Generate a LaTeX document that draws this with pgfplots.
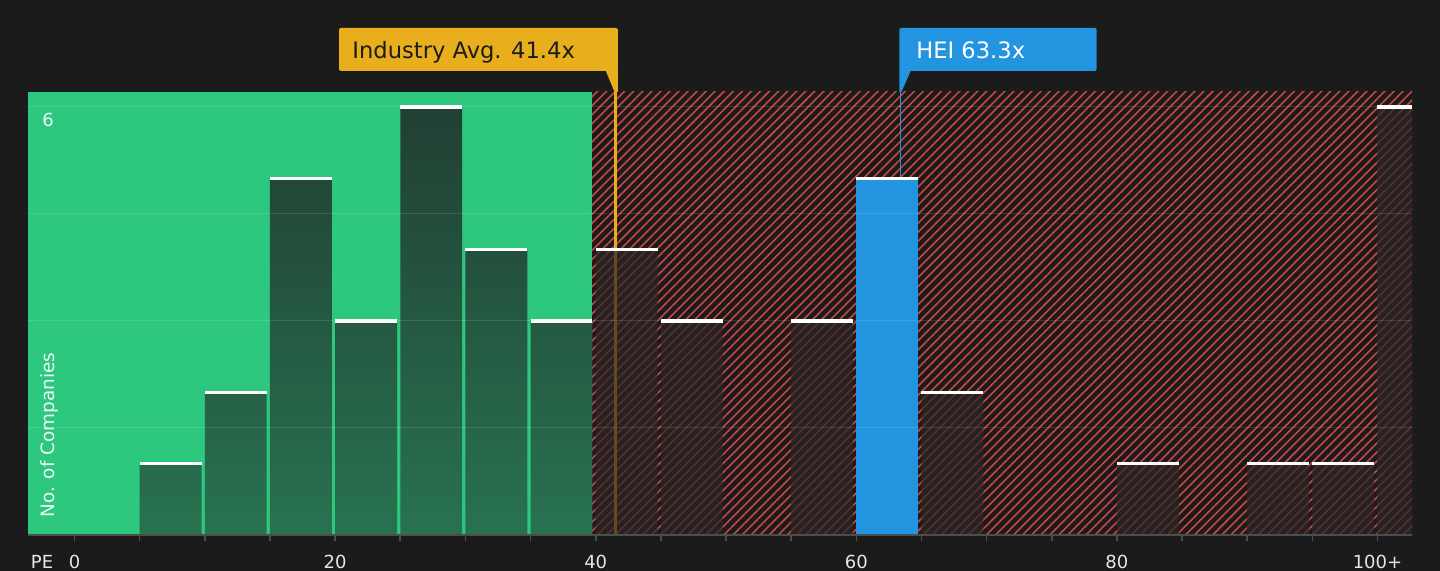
\documentclass[border=0pt]{standalone}
\usepackage{pgfplots}
\pgfplotsset{compat=1.18}
\usepackage{pgfplotstable}
\usepackage{fontspec}
\setmainfont{DejaVu Sans}
\usetikzlibrary{patterns.meta}
\definecolor{bg}{HTML}{1B1B1B}
\definecolor{greenbg}{RGB}{46,199,126}
\definecolor{gtop}{HTML}{213F33}
\definecolor{gbot}{HTML}{287250}
\definecolor{hatchred}{RGB}{200,70,70}
\definecolor{darkbar}{RGB}{44,38,38}
\definecolor{indorange}{HTML}{E9AE1B}
\definecolor{heiblue}{HTML}{2394DF}
\definecolor{axisgray}{HTML}{4D4D4D}
\definecolor{ticktext}{HTML}{E6E6E6}

\pgfplotstableread{
x y
5 1
10 2
15 5
20 3
25 6
30 4
35 3
}\greenbars
\pgfplotstableread{
x y
40 4
45 3
55 3
65 2
80 1
90 1
95 1
}\redbars
\pgfplotstableread{
x y
60 5
}\heibar
\pgfplotstableread{
x y
100 6
}\lastbar

\begin{document}
\begin{tikzpicture}
\useasboundingbox (0,0) rectangle (720pt,285.5pt);
\fill[bg] (0,0) rectangle (720pt,285.5pt);
\begin{axis}[
  at={(14pt,18pt)}, anchor=south west,
  width=692pt, height=221.5pt, scale only axis,
  xmin=-3.57, xmax=102.65, ymin=0, ymax=6.21,
  clip=false,
  axis on top,
  axis x line*=bottom,
  axis y line*=left,
  x axis line style={-, draw=axisgray, line width=0.8pt},
  y axis line style={draw=none},
  xtick={0,5,...,100},
  xticklabels={0,,,,20,,,,40,,,,60,,,,80,,,,100+},
  ytick={1.5,3,4.5,6},
  yticklabels={},
  major y tick style={draw=none},
  ymajorgrids,
  grid style={white, opacity=0.12, line width=0.5pt},
  tick align=outside,
  major tick length=3pt,
  major x tick style={draw=axisgray, line width=0.8pt},
  xticklabel style={font=\fontsize{9}{10}\selectfont, text=ticktext, anchor=base, inner sep=0pt, yshift=-13.8pt},
]
% regions
\addplot[draw=none, fill=greenbg] coordinates {(-3.57,6.21) (39.7,6.21)} \closedcycle;
\addplot[draw=none, pattern={Lines[angle=45,distance=3.2pt,line width=0.8pt]}, pattern color=hatchred] coordinates {(39.7,6.21) (102.65,6.21)} \closedcycle;
% reference lines
\draw[indorange, line width=1.5pt] (axis cs:41.55,0) -- (axis cs:41.55,6.21);
\draw[heiblue, line width=0.8pt] (axis cs:63.4,6.21) -- (axis cs:63.4,5);
% bars
\addplot[ybar, bar width=4.75, bar shift=2.375, draw=none, top color=gtop, bottom color=gbot] table[x=x,y=y] {\greenbars};
\addplot[ybar, bar width=4.75, bar shift=2.375, draw=none, fill=darkbar, fill opacity=0.72] table[x=x,y=y] {\redbars};
\addplot[ybar, bar width=4.75, bar shift=2.375, draw=none, fill=heiblue] table[x=x,y=y] {\heibar};
\addplot[ybar, bar width=2.65, bar shift=1.325, draw=none, fill=darkbar, fill opacity=0.72] table[x=x,y=y] {\lastbar};
% caps
\addplot[only marks, mark=-, mark size=15.47pt, mark options={draw=white, line width=1.8pt}] table[x expr=\thisrow{x}+2.375, y=y] {\greenbars};
\addplot[only marks, mark=-, mark size=15.47pt, mark options={draw=white, line width=1.8pt}] table[x expr=\thisrow{x}+2.375, y=y] {\redbars};
\addplot[only marks, mark=-, mark size=15.47pt, mark options={draw=white, line width=1.8pt}] table[x expr=\thisrow{x}+2.375, y=y] {\heibar};
\addplot[only marks, mark=-, mark size=8.63pt, mark options={draw=white, line width=1.8pt}] table[x expr=\thisrow{x}+1.325, y=y] {\lastbar};
% labels inside
\node[text=white, opacity=0.9, font=\fontsize{9}{10}\selectfont, anchor=center] at (axis cs:-2.03,5.82) {6};
\node[text=white, opacity=0.9, font=\fontsize{9.2}{10}\selectfont, anchor=base west, rotate=90, inner sep=0pt] at (axis cs:-1.55,0.24) {No. of Companies};
\node[text=ticktext, font=\fontsize{9}{10}\selectfont, anchor=base, inner sep=0pt] at (axis cs:-2.49,0) [yshift=-16.8pt] {PE};
% annotation boxes
\fill[indorange, rounded corners=1pt] (axis cs:20.3,6.505) rectangle (axis cs:41.7,7.108);
\fill[indorange] (axis cs:40.75,6.515) -- (axis cs:41.7,6.515) -- (axis cs:41.7,6.21) -- (axis cs:41.45,6.21) -- cycle;
\node[text=bg, font=\fontsize{11.3}{13}\selectfont, anchor=base west, inner sep=0pt] at (axis cs:21.3,6.673) {Industry Avg. 41.4x};
\fill[heiblue, rounded corners=1pt] (axis cs:63.3,6.505) rectangle (axis cs:78.45,7.108);
\fill[heiblue] (axis cs:63.3,6.515) -- (axis cs:64.2,6.515) -- (axis cs:63.46,6.21) -- (axis cs:63.3,6.21) -- cycle;
\node[text=white, font=\fontsize{11.3}{13}\selectfont, anchor=base west, inner sep=0pt] at (axis cs:64.58,6.673) {HEI 63.3x};
\end{axis}
\end{tikzpicture}
\end{document}
